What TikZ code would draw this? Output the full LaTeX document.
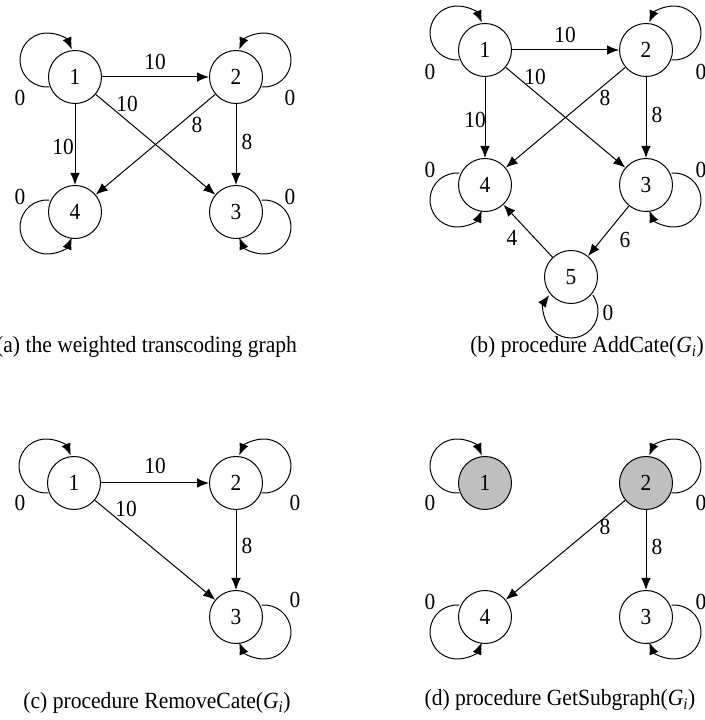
\documentclass[tikz,border=0pt]{standalone}
\usepackage{fontspec}
\setmainfont[FakeStretch=0.93]{Liberation Serif}
\usetikzlibrary{arrows.meta}

% self-loops: arc of radius 27 beside the vertex, arrow ending on its rim
\newcommand{\loopTL}[1]{\draw[edge] (#1) ++(-28,17) ++(275:27) arc[start angle=275,end angle=23,radius=27pt];}
\newcommand{\loopTR}[1]{\draw[edge] (#1) ++(28,17) ++(265:27) arc[start angle=265,end angle=517,radius=27pt];}
\newcommand{\loopBL}[1]{\draw[edge] (#1) ++(-28,-15) ++(85:27) arc[start angle=85,end angle=337,radius=27pt];}
\newcommand{\loopBR}[1]{\draw[edge] (#1) ++(28,-15) ++(95:27) arc[start angle=95,end angle=-157,radius=27pt];}
\newcommand{\loopB}[1]{\draw[edge] (#1) ++(0,-34) ++(36:27) arc[start angle=36,end angle=-216,radius=27pt];}

\begin{document}
\begin{tikzpicture}[x=1pt,y=1pt,
  txt/.style={font=\fontsize{23}{28}\selectfont},
  vertex/.style={circle,draw,line width=1pt,minimum size=53pt,inner sep=0pt,txt},
  chosen/.style={vertex,fill=gray!50},
  edge/.style={line width=1pt,-{Latex[length=12pt,width=9.5pt]}},
  wt/.style={txt,inner sep=0pt},
  caption/.style={font=\fontsize{23.2}{28}\selectfont,inner sep=0pt}]
\useasboundingbox (0,0) rectangle (704,720);

% ---------- (a) the weighted transcoding graph ----------
\node[vertex] (a1) at (75,643) {1};
\node[vertex] (a2) at (236,643) {2};
\node[vertex] (a4) at (75,508) {4};
\node[vertex] (a3) at (236,508) {3};
\draw[edge] (a1) -- (a2);
\draw[edge] (a1) -- (a3);
\draw[edge] (a1) -- (a4);
\draw[edge] (a2) -- (a4);
\draw[edge] (a2) -- (a3);
\loopTL{a1} \loopTR{a2} \loopBL{a4} \loopBR{a3}
\node[wt] (wa12) at (155,658) {10};
\node[wt] (wa13) at (127,616) {10};
\node[wt] (wa14) at (63,573) {10};
\node[wt] (wa24) at (197,595) {8};
\node[wt] (wa23) at (247,578) {8};
\node[wt] (wa11) at (20,622) {0};
\node[wt] (wa22) at (290,622) {0};
\node[wt] (wa44) at (20,523) {0};
\node[wt] (wa33) at (290,523) {0};
\node[caption,anchor=west] (capa) at (-4,373) {(a) the weighted transcoding graph};

% ---------- (b) procedure AddCate ----------
\node[vertex] (b1) at (485,670) {1};
\node[vertex] (b2) at (646,670) {2};
\node[vertex] (b4) at (485,535) {4};
\node[vertex] (b3) at (646,535) {3};
\node[vertex] (b5) at (571,443) {5};
\draw[edge] (b1) -- (b2);
\draw[edge] (b1) -- (b3);
\draw[edge] (b1) -- (b4);
\draw[edge] (b2) -- (b4);
\draw[edge] (b2) -- (b3);
\draw[edge] (b3) -- (b5);
\draw[edge] (b5) -- (b4);
\loopTL{b1} \loopTR{b2} \loopBL{b4} \loopBR{b3} \loopB{b5}
\node[wt] (wb12) at (565,685) {10};
\node[wt] (wb13) at (535,643) {10};
\node[wt] (wb14) at (475,600) {10};
\node[wt] (wb24) at (605,622) {8};
\node[wt] (wb23) at (657,605) {8};
\node[wt] (wb35) at (625,480) {6};
\node[wt] (wb54) at (512,482) {4};
\node[wt] (wb11) at (430,648) {0};
\node[wt] (wb22) at (701,648) {0};
\node[wt] (wb44) at (430,550) {0};
\node[wt] (wb33) at (701,550) {0};
\node[wt] (wb55) at (608,407) {0};
\node[caption,anchor=east] (capb) at (704,373) {(b) procedure AddCate(\textit{G}\textsubscript{\textit{i}})};

% ---------- (c) procedure RemoveCate ----------
\node[vertex] (c1) at (74,237) {1};
\node[vertex] (c2) at (236,237) {2};
\node[vertex] (c3) at (236,103) {3};
\draw[edge] (c1) -- (c2);
\draw[edge] (c1) -- (c3);
\draw[edge] (c2) -- (c3);
\loopTL{c1} \loopTR{c2} \loopBR{c3}
\node[wt] (wc12) at (155,254) {10};
\node[wt] (wc13) at (126,211) {10};
\node[wt] (wc23) at (247,174) {8};
\node[wt] (wc11) at (20,217) {0};
\node[wt] (wc22) at (295,217) {0};
\node[wt] (wc33) at (295,120) {0};
\node[caption] (capc) at (157,17) {(c) procedure RemoveCate(\textit{G}\textsubscript{\textit{i}})};

% ---------- (d) procedure GetSubgraph ----------
\node[chosen] (d1) at (485,237) {1};
\node[chosen] (d2) at (646,237) {2};
\node[vertex] (d4) at (485,103) {4};
\node[vertex] (d3) at (646,103) {3};
\draw[edge] (d2) -- (d4);
\draw[edge] (d2) -- (d3);
\loopTL{d1} \loopTR{d2} \loopBL{d4} \loopBR{d3}
\node[wt] (wd24) at (605,193) {8};
\node[wt] (wd23) at (657,173) {8};
\node[wt] (wd11) at (430,217) {0};
\node[wt] (wd22) at (701,217) {0};
\node[wt] (wd44) at (430,118) {0};
\node[wt] (wd33) at (701,118) {0};
\node[caption] (capd) at (560,20) {(d) procedure GetSubgraph(\textit{G}\textsubscript{\textit{i}})};
\end{tikzpicture}
\end{document}
